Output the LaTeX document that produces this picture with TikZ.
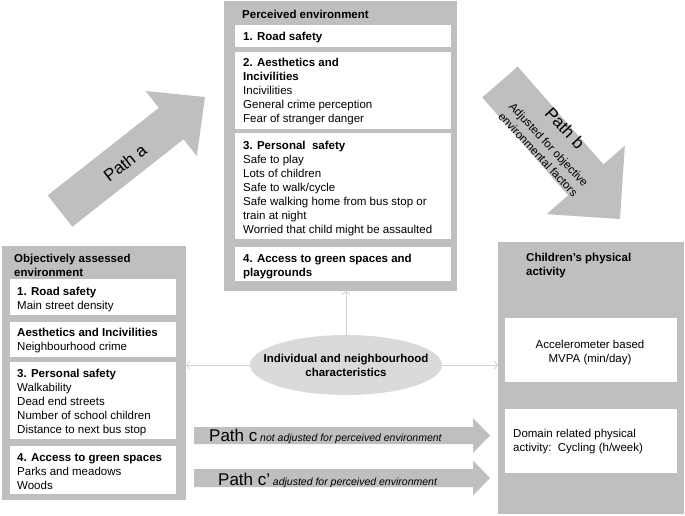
\documentclass[tikz,border=0pt]{standalone}
\usepackage{fontspec}
\setmainfont{Liberation Sans}
\usetikzlibrary{calc,shapes.geometric,arrows.meta}
\definecolor{boxgray}{RGB}{191,191,191}
\definecolor{ellgray}{RGB}{218,218,218}
\definecolor{linegray}{RGB}{212,212,212}
\newcommand{\tl}[1]{\begin{tabular}[t]{@{}l@{}}#1\end{tabular}}
\newcommand{\tc}[1]{\begin{tabular}[t]{@{}c@{}}#1\end{tabular}}
% #1 name, #2 tail, #3 tip, #4 half body, #5 half head, #6 head length
\newcommand{\fatarrow}[6]{%
  \coordinate (#1T) at #2;
  \coordinate (#1P) at #3;
  \coordinate (#1B) at ($(#1P)!#6!(#1T)$);
  \fill[boxgray] ($(#1T)!#4!90:(#1P)$) -- ($(#1B)!#4!90:(#1P)$) -- ($(#1B)!#5!90:(#1P)$)
    -- (#1P) -- ($(#1B)!#5!-90:(#1P)$) -- ($(#1B)!#4!-90:(#1P)$) -- ($(#1T)!#4!-90:(#1P)$) -- cycle;
}
\begin{document}
\begin{tikzpicture}[x=1pt,y=-1pt,
  gbox/.style={fill=boxgray, inner sep=0, outer sep=0, anchor=north west},
  wbox/.style={fill=white, inner sep=0, outer sep=0, anchor=north west},
  txt/.style={inner sep=0, anchor=base west, font=\fontsize{11.5}{14}\selectfont},
  ctxt/.style={inner sep=0, anchor=base, font=\fontsize{11.5}{14}\selectfont},
  conn/.style={draw=linegray, line width=1pt, -{Straight Barb[length=3pt,width=8pt]}},
  big/.style={font=\fontsize{17}{17}\selectfont},
  ]
\useasboundingbox (0,0) rectangle (685,515);

% path arrows
\fatarrow{a}{(60,211)}{(205,97)}{20pt}{41.5pt}{43pt}
\fatarrow{b}{(500,82)}{(620,219)}{23.5pt}{52pt}{52pt}
\fatarrow{c}{(194,435.5)}{(490,435.5)}{8.5pt}{17.5pt}{17pt}
\fatarrow{cc}{(194,478)}{(490,478)}{9pt}{17.5pt}{17pt}

% objectively assessed environment
\node[gbox, minimum width=184pt, minimum height=254pt] (obj) at (2,246) {};
\node[wbox, minimum width=166pt, minimum height=36pt] (o1) at (10,279) {};
\node[wbox, minimum width=166pt, minimum height=35pt] (o2) at (10,322) {};
\node[wbox, minimum width=166pt, minimum height=77pt] (o3) at (10,362) {};
\node[wbox, minimum width=166pt, minimum height=48pt] (o4) at (10,446) {};
\node[txt] (objt) at (14,262) {\tl{\textbf{Objectively assessed}\\\textbf{environment}}};
\node[txt] (o1t) at (17,295) {\tl{\textbf{1. Road safety}\\Main street density}};
\node[txt] (o2t) at (17,336) {\tl{\textbf{Aesthetics and Incivilities}\\Neighbourhood crime}};
\node[txt] (o3t) at (17,377) {\tl{\textbf{3. Personal safety}\\Walkability\\Dead end streets\\Number of school children\\Distance to next bus stop}};
\node[txt] (o4t) at (17,461) {\tl{\textbf{4. Access to green spaces}\\Parks and meadows\\Woods}};

% perceived environment
\node[gbox, minimum width=233pt, minimum height=290pt] (perc) at (224,1) {};
\node[wbox, minimum width=216pt, minimum height=22pt] (p1) at (235,25) {};
\node[wbox, minimum width=216pt, minimum height=77pt] (p2) at (235,52) {};
\node[wbox, minimum width=216pt, minimum height=106pt] (p3) at (235,133) {};
\node[wbox, minimum width=216pt, minimum height=34pt] (p4) at (235,247) {};
\node[txt] (perct) at (242,18) {\textbf{Perceived environment}};
\node[txt] (p1t) at (243,40) {\tl{\textbf{1. Road safety}}};
\node[txt] (p2t) at (243,66) {\tl{\textbf{2. Aesthetics and}\\\textbf{Incivilities}\\Incivilities\\General crime perception\\Fear of stranger danger}};
\node[txt] (p3t) at (243,149) {\tl{\textbf{3. Personal\ \ safety}\\Safe to play\\Lots of children\\Safe to walk/cycle\\Safe walking home from bus stop or\\train at night\\Worried that child might be assaulted}};
\node[txt] (p4t) at (243,262) {\tl{\textbf{4. Access to green spaces and}\\\textbf{playgrounds}}};

% children's physical activity
\node[gbox, minimum width=186pt, minimum height=272pt] (phys) at (498,242) {};
\node[wbox, minimum width=172pt, minimum height=64pt] (r1) at (505,318) {};
\node[wbox, minimum width=172pt, minimum height=64pt] (r2) at (505,409) {};
\node[txt] (physt) at (526,261) {\tl{\textbf{Children’s physical}\\\textbf{activity}}};
\node[ctxt] (r1t) at (590,348) {\tc{Accelerometer based\\MVPA (min/day)}};
\node[txt] (r2t) at (513,437) {\tl{Domain related physical\\activity:\ \ Cycling (h/week)}};

% individual characteristics
\node[ellipse, fill=ellgray, minimum width=192pt, minimum height=60pt, inner sep=0] (ell) at (346,365) {};
\node[inner sep=0, align=center, font=\fontsize{11.5}{14}\selectfont\bfseries] (ellt) at (ell) {Individual and neighbourhood\\characteristics};
\draw[conn] (ell.north) -- (ell.north |- perc.south);
\draw[conn] (ell.west) -- (ell.west -| obj.east);
\draw[conn] (ell.east) -- (ell.east -| phys.west);

% path labels
\node[big, rotate=38, inner sep=0] (pa) at (125,163) {Path a};
\node[big, rotate=-47, inner sep=0] (pb) at (565,128) {Path b};
\node[rotate=-47, inner sep=0, align=center, font=\fontsize{11.5}{14.5}\selectfont] (pbs) at (543.5,149.5) {Adjusted for objective\\environmental factors};
\node[inner sep=0, anchor=base west] (pc) at (209,441) {{\fontsize{17}{17}\selectfont Path c} {\fontsize{10.5}{12}\selectfont\itshape not adjusted for perceived environment}};
\node[inner sep=0, anchor=base west] (pcc) at (218,485) {{\fontsize{17}{17}\selectfont Path c’} {\fontsize{10.5}{12}\selectfont\itshape adjusted for perceived environment}};
\end{tikzpicture}
\end{document}
